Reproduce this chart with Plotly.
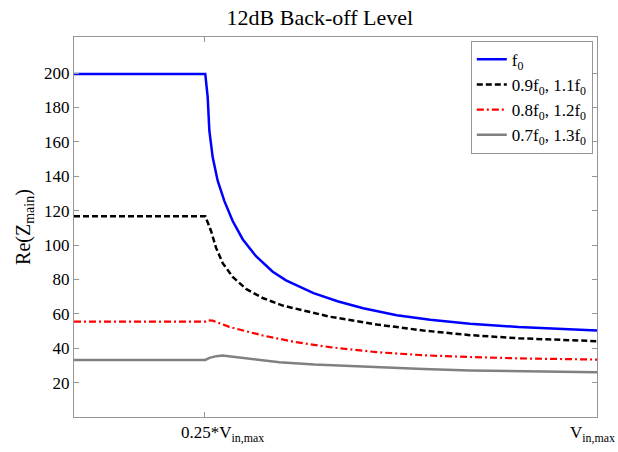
import plotly.graph_objects as go

# Normalised input drive (fraction of V_in,max) and Re(Z_main) per frequency set
x_f0 = [0, 0.251, 0.2556, 0.2588, 0.2652, 0.2747, 0.2874, 0.3034, 0.3225, 0.348,
        0.38, 0.4054, 0.458, 0.5054, 0.553, 0.617, 0.681, 0.757, 0.85, 1.0]
re_f0 = [199.5, 199.5, 186, 166.5, 151, 137.4, 125.7, 114, 103.4, 93.5,
         84.5, 79.5, 72, 67.2, 63.3, 59.2, 56.5, 54.3, 52.3, 50.3]

x_09 = [0, 0.251, 0.262, 0.2715, 0.2843, 0.3034, 0.3289, 0.3608, 0.399, 0.4895,
        0.579, 0.668, 0.757, 0.85, 1.0]
re_09 = [116.8, 116.8, 108.2, 98.5, 89.5, 81.5, 74.5, 69.2, 64.8, 58.3,
         53.8, 50.3, 47.6, 45.8, 44.1]

x_08 = [0, 0.251, 0.2556, 0.265, 0.297, 0.336, 0.361, 0.4245, 0.4895, 0.579,
        0.668, 0.757, 0.85, 1.0]
re_08 = [55.5, 55.5, 56.2, 56.0, 52.4, 49.2, 47.4, 43.5, 40.6, 37.7,
         35.9, 34.9, 34.1, 33.4]

x_07 = [0, 0.251, 0.259, 0.272, 0.284, 0.30, 0.329, 0.3926, 0.4595, 0.579,
        0.668, 0.757, 0.85, 1.0]
re_07 = [33.2, 33.2, 34.4, 35.4, 35.7, 35.2, 33.9, 31.9, 30.5, 28.8,
         27.9, 27.0, 26.5, 26.0]

x_ticks = [0.25, 1.0]
x_tick_labels = ["0.25*V<sub>in,max</sub>", "V<sub>in,max</sub>"]
y_ticks = [20, 40, 60, 80, 100, 120, 140, 160, 180, 200]

series = [
    (x_f0, re_f0, "f<sub>0</sub>", "rgb(0,0,255)", "solid", 2.5),
    (x_09, re_09, "0.9f<sub>0</sub>, 1.1f<sub>0</sub>", "black", "6px,3px", 2.5),
    (x_08, re_08, "0.8f<sub>0</sub>, 1.2f<sub>0</sub>", "rgb(255,0,0)", "7px,3px,2px,3px", 2.2),
    (x_07, re_07, "0.7f<sub>0</sub>, 1.3f<sub>0</sub>", "rgb(128,128,128)", "solid", 2.5),
]

fig = go.Figure()
for xs, ys, name, color, dash, width in series:
    fig.add_trace(go.Scatter(
        x=xs, y=ys, mode="lines", name=name,
        line=dict(color=color, dash=dash, width=width),
    ))

serif = "Liberation Serif, Times New Roman, serif"
axis_common = dict(
    showline=True, linecolor="rgb(150,150,150)", linewidth=1, mirror="ticks",
    ticks="inside", ticklen=5, tickcolor="rgb(150,150,150)",
    showgrid=False, zeroline=False,
    tickfont=dict(family=serif, size=17, color="black"),
)

# x tick labels placed under their tick positions (left one left-aligned, right one right-aligned)
label_specs = [("left", -26), ("right", 20)]
annotations = []
for val, text, (anchor, shift) in zip(x_ticks, x_tick_labels, label_specs):
    annotations.append(dict(
        x=val, xref="x", y=0, yref="paper", yanchor="top", xanchor=anchor,
        xshift=shift, yshift=-4, text=text, showarrow=False,
        font=dict(family=serif, size=17, color="black"),
    ))

fig.update_layout(
    width=618, height=452,
    margin=dict(l=74, r=21, t=37, b=35),
    paper_bgcolor="white", plot_bgcolor="white",
    font=dict(family=serif, color="black"),
    title=dict(text="12dB Back-off Level", x=0.47, xref="paper", xanchor="center",
               y=1 - 17 / 452, yref="container", yanchor="middle",
               font=dict(family=serif, size=22, color="black")),
    xaxis=dict(range=[0, 1], tickvals=x_ticks, ticktext=["", ""], **axis_common),
    yaxis=dict(range=[0, 221], tickvals=y_ticks,
               title=dict(text="Re(Z<sub>main</sub>)", font=dict(family=serif, size=20), standoff=8),
               **axis_common),
    legend=dict(x=0.992, y=0.99, xanchor="right", yanchor="top",
                bordercolor="rgb(150,150,150)", borderwidth=1, bgcolor="white",
                font=dict(family=serif, size=17, color="black"),
                itemwidth=30, tracegroupgap=0),
    annotations=annotations,
    showlegend=True,
)

fig.write_html("out.html")
